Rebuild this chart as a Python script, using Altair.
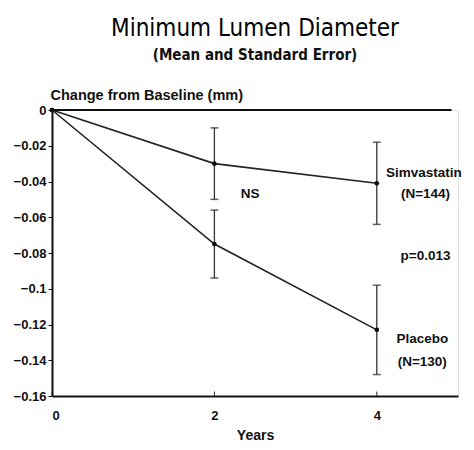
import altair as alt
import pandas as pd

years = [0, 2, 4]
simva_mean = [0.0, -0.030, -0.041]
simva_se = [0.0, 0.020, 0.023]
placebo_mean = [0.0, -0.075, -0.123]
placebo_se = [0.0, 0.019, 0.025]
y_ticks = [0, -0.02, -0.04, -0.06, -0.08, -0.1, -0.12, -0.14, -0.16]
x_ticks = [0, 2, 4]

rows = []
for name, m, s in [("Simvastatin", simva_mean, simva_se), ("Placebo", placebo_mean, placebo_se)]:
    for yr, mv, sv in zip(years, m, s):
        rows.append({"series": name, "year": yr, "mean": mv, "lo": mv - sv, "hi": mv + sv, "se": sv})
df = pd.DataFrame(rows)
err = df[df["se"] > 0]

ann = pd.DataFrame([
    {"x": 2.44, "y": -0.047, "t": "NS"},
    {"x": 4.58, "y": -0.035, "t": "Simvastatin"},
    {"x": 4.60, "y": -0.047, "t": "(N=144)"},
    {"x": 4.60, "y": -0.0817, "t": "p=0.013"},
    {"x": 4.56, "y": -0.128, "t": "Placebo"},
    {"x": 4.56, "y": -0.141, "t": "(N=130)"},
])

FONT = "Liberation Sans"
COND = "DejaVu Sans Condensed"
xs = alt.Scale(domain=[0, 5], nice=False)
ys = alt.Scale(domain=[-0.16, 0], nice=False)

X = alt.X("year:Q", scale=xs,
          axis=alt.Axis(values=x_ticks, title="Years", grid=False, ticks=False, format="d",
                        labelFont=FONT, labelFontWeight="bold", labelFontSize=13,
                        labelPadding=13, titleFont=FONT, titleFontWeight="bold",
                        titleFontSize=14, titlePadding=6, domainWidth=2,
                        domainColor="#111", labelColor="#111", titleColor="#111"))
Y = alt.Y("mean:Q", scale=ys,
          axis=alt.Axis(values=y_ticks, title="Change from Baseline (mm)", grid=False,
                        labelOverlap=False, labelFlush=False, tickCount=9,
                        tickSize=4, tickColor="#111", labelFont=FONT, labelFontWeight="bold",
                        labelFontSize=13, labelPadding=2, labelColor="#111",
                        labelExpr="datum.value == 0 ? '0' : format(datum.value, '.2~f')",
                        titleFont=FONT, titleFontWeight="bold", titleFontSize=14.5,
                        titleAngle=0, titleAlign="left", titleBaseline="bottom",
                        titleX=-2, titleY=-8, titleColor="#111",
                        domainWidth=2, domainColor="#111"))

lines = alt.Chart(df).mark_line(color="#222", strokeWidth=1.6).encode(x=X, y=Y, detail="series:N")
pts = alt.Chart(df).mark_point(filled=True, color="#111", size=22, opacity=1).encode(x="year:Q", y="mean:Q")
bars = alt.Chart(err).mark_rule(color="#333", strokeWidth=1.3).encode(x="year:Q", y="lo:Q", y2="hi:Q")
cap_lo = alt.Chart(err).mark_tick(color="#222", orient="horizontal", size=8, thickness=1.5).encode(x="year:Q", y="lo:Q")
cap_hi = alt.Chart(err).mark_tick(color="#222", orient="horizontal", size=8, thickness=1.5).encode(x="year:Q", y="hi:Q")

base_line = alt.Chart(pd.DataFrame({"x": [0], "x2": [4.92], "y": [0]})).mark_rule(
    color="#111", strokeWidth=2).encode(x="x:Q", x2="x2:Q", y="y:Q")

xt = alt.Chart(pd.DataFrame({"x": x_ticks, "y": [-0.16] * 3, "y2": [-0.1575] * 3})).mark_rule(
    color="#222", strokeWidth=1).encode(x="x:Q", y="y:Q", y2="y2:Q")

texts = alt.Chart(ann).mark_text(font=FONT, fontWeight="bold", fontSize=13.5, color="#111",
                                 align="center", baseline="middle").encode(
    x="x:Q", y="y:Q", text="t:N")

chart = alt.layer(lines, base_line, bars, cap_lo, cap_hi, pts, xt, texts).properties(
    width=406, height=286,
    title=alt.TitleParams("Minimum Lumen Diameter", subtitle="(Mean and Standard Error)",
                          font=COND, fontSize=24, fontWeight="normal",
                          subtitleFont=COND, subtitleFontSize=15,
                          subtitleFontWeight="bold", anchor="middle", offset=24,
                          color="#000", subtitleColor="#111", subtitlePadding=7),
    autosize=alt.AutoSizeParams(type="none"),
    padding={"left": 44, "top": 102, "right": 8, "bottom": 46},
).configure_view(stroke=None).configure(background="white")

chart.save("out.html", embed_options={"renderer": "svg", "actions": False})
